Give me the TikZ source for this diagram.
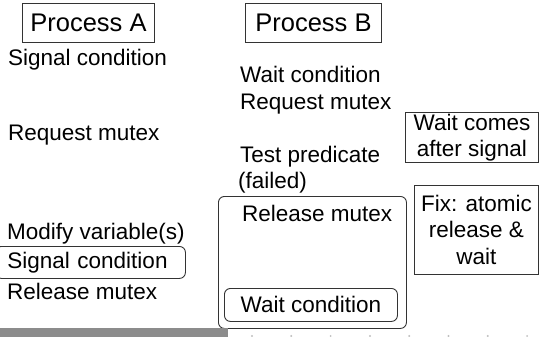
\documentclass[tikz,border=0pt]{standalone}
\usepackage{fontspec}
\setmainfont{Liberation Sans}
\begin{document}
\begin{tikzpicture}[x=1pt,y=-1pt,
  body/.style={font=\fontsize{22.5}{26.5}\selectfont},
  head/.style={font=\fontsize{25.5}{30}\selectfont},
  lbl/.style={body,anchor=base west,inner sep=0pt},
  frame/.style={draw=black!80,line width=0.9pt,anchor=north west,inner sep=0pt},
  rframe/.style={frame,rounded corners=6pt}]
\useasboundingbox (0,0) rectangle (539,337);
\clip (0,0) rectangle (539,337);

% column headers
\node[frame,head,minimum width=132pt,minimum height=39pt] (hA) at (22,3) {Process A};
\node[frame,head,minimum width=136pt,minimum height=39pt] (hB) at (245,3) {Process B};

% process A steps
\node[lbl] (a1) at (8,66) {Signal condition};
\node[lbl] (a2) at (8,140) {Request mutex};
\node[lbl] (a3) at (7,240) {Modify variable(s)};
\node[rframe,body,align=left,text width=166pt,inner xsep=12pt,minimum height=32pt] (a4) at (-5,246) {Signal condition};
\node[lbl] (a5) at (7,299) {Release mutex};

% process B steps
\node[lbl] (b1) at (240,83) {Wait condition};
\node[lbl] (b2) at (240,110) {Request mutex};
\node[lbl] (b3) at (240,163) {Test predicate};
\node[lbl] (b4) at (238,188) {(failed)};
\node[rframe,minimum width=188pt,minimum height=132pt] (grp) at (218,196) {};
\node[lbl] (b5) at (242,221) {Release mutex};
\node[rframe,body,minimum width=173pt,minimum height=33pt] (b6) at (224,288) {Wait condition};

% side notes
\node[frame,body,align=center,minimum width=133pt,minimum height=50pt] (n1) at (405,112) {Wait comes\\after signal};
\node[frame,body,align=center,minimum width=124pt,minimum height=89pt] (n2) at (414,185) {Fix: atomic\\release \&\\wait};

% bottom strip
\fill[black!45] (0,328) rectangle (228,337);
\foreach \k in {0,...,7}
  \fill[black!25] (252+39.3*\k,336) circle (1.1pt);
\end{tikzpicture}
\end{document}
